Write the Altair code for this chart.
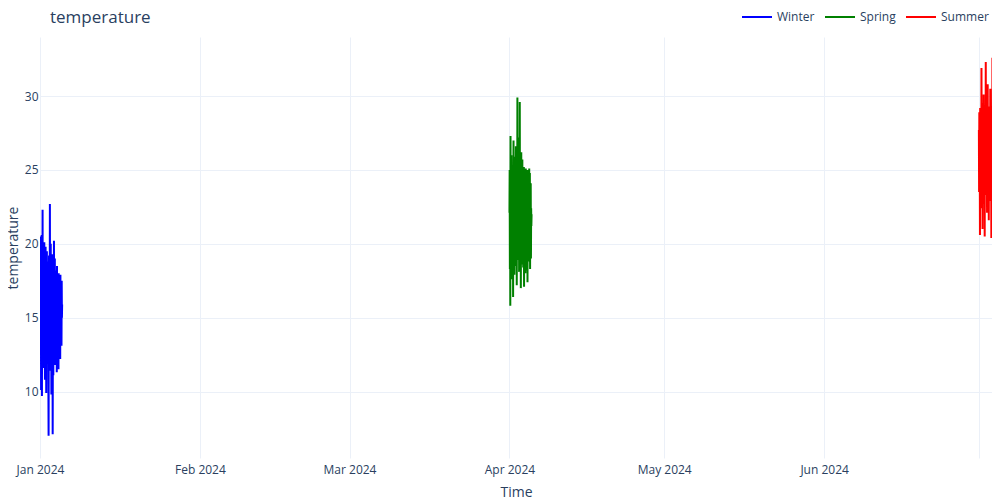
import altair as alt
import pandas as pd

seasons = ["Winter", "Spring", "Summer"]
starts = ["2024-01-01", "2024-04-01", "2024-07-01"]
colors = ["blue", "green", "red"]

winter = [20.5, 14.2, 18.9, 12.5, 19.6, 10.1, 16.8, 13.4, 20.6, 9.7, 17.5, 12.9, 22.3, 14.8, 18.1, 11.6,
          19.4, 13.0, 15.7, 12.2, 20.1, 14.6, 16.9, 10.8, 18.3, 13.7, 19.8, 12.4, 17.2, 9.9, 15.5, 13.1,
          19.5, 11.9, 16.4, 14.3, 18.8, 12.7, 17.6, 10.5, 7.0, 15.9, 19.2, 13.6, 16.7, 11.4, 22.7, 14.1,
          18.5, 12.0, 20.0, 13.3, 17.1, 9.8, 15.2, 12.6, 19.3, 14.7, 16.0, 7.1, 13.9, 18.7, 11.1, 17.8,
          14.4, 20.2, 12.3, 16.6, 13.5, 19.0, 11.8, 15.8, 13.2, 18.2, 12.1, 17.4, 14.0, 16.2, 11.3, 18.5,
          13.8, 15.4, 12.5, 17.7, 14.9, 16.1, 11.5, 18.0, 13.4, 15.6, 12.8, 17.3, 14.2, 16.5, 12.2, 17.9,
          13.6, 15.3, 14.5, 16.8, 13.1, 17.5, 15.0, 15.9]

spring = [22.1, 25.0, 18.3, 24.2, 15.8, 27.3, 20.4, 23.6, 19.1, 26.0, 21.5, 17.6, 24.8, 20.0, 22.9, 18.7,
          25.3, 16.4, 23.1, 27.0, 19.8, 21.9, 24.5, 17.9, 22.6, 20.7, 25.9, 18.5, 23.4, 21.2, 26.6, 19.4,
          22.0, 24.1, 17.2, 23.8, 20.9, 29.9, 18.9, 24.6, 21.6, 27.2, 19.6, 22.8, 25.5, 18.1, 23.3, 20.3,
          29.6, 21.8, 24.9, 19.0, 23.0, 17.0, 22.4, 26.2, 20.6, 24.3, 18.6, 22.7, 25.7, 19.9, 21.4, 24.0,
          18.4, 23.5, 20.2, 25.2, 17.1, 22.2, 24.7, 19.3, 21.7, 23.9, 18.0, 22.5, 25.1, 19.5, 21.1, 24.4,
          18.2, 23.2, 20.8, 25.0, 17.4, 22.3, 24.2, 19.7, 21.0, 23.7, 18.8, 22.6, 25.1, 19.2, 21.3, 24.8,
          18.3, 23.0, 20.5, 24.1, 19.0, 22.4, 21.2, 22.0]

summer = [27.7, 23.5, 28.9, 24.6, 26.3, 20.6, 29.2, 25.1, 27.4, 22.4, 28.1, 24.0, 31.9, 25.7, 23.1, 29.5,
          26.6, 21.0, 28.3, 24.9, 27.0, 22.7, 30.1, 25.4, 26.8, 23.8, 29.0, 20.5, 27.9, 24.4, 28.6, 25.9,
          32.3, 23.3, 26.2, 29.7, 24.1, 27.5, 22.1, 28.8, 25.6, 30.8, 23.6, 27.2, 24.8, 29.3, 21.6, 26.9,
          25.2, 28.4, 22.9, 27.6, 24.3, 30.5, 25.8, 23.0, 28.0, 26.4, 20.4, 29.1, 24.7, 27.3, 23.9, 32.6,
          25.5, 28.7, 22.5, 27.1, 24.2, 29.8, 26.1, 23.4, 28.2, 25.0, 21.4, 27.8, 24.5, 29.4, 26.0, 22.8,
          28.5, 25.3, 27.0, 23.7, 30.2, 24.9, 26.7, 22.6, 28.1, 25.6, 27.4, 23.2, 29.0, 24.4, 26.5, 25.1,
          27.9, 22.3, 28.6, 24.0, 26.3, 25.7, 27.2, 24.8]

y_ticks = [10, 15, 20, 25, 30]

frames = []
for name, start, vals in zip(seasons, starts, [winter, spring, summer]):
    t = pd.date_range(start, periods=len(vals), freq="h")
    frames.append(pd.DataFrame({"Time": t.strftime("%Y-%m-%dT%H:%M:%S"),
                                "temperature": vals, "season": name}))
df = pd.concat(frames, ignore_index=True)

FONT = "Open Sans"
TXT = "#2a3f5f"

month_ticks = [alt.DateTime(year=2024, month=m, date=1) for m in range(1, 8)]

chart = alt.Chart(df).mark_line(strokeWidth=2, clip=True).encode(
    x=alt.X("Time:T",
            scale=alt.Scale(domain=[alt.DateTime(year=2024, month=1, date=1),
                                    alt.DateTime(year=2024, month=7, date=3, hours=13)]),
            axis=alt.Axis(values=month_ticks,
                          labelExpr="month(datum.value) == 6 ? '' : timeFormat(datum.value, '%b %Y')",
                          labelPadding=6, titlePadding=10, labelFlush=False, labelOverlap=False),
            title="Time"),
    y=alt.Y("temperature:Q",
            scale=alt.Scale(domain=[5.5, 34], nice=False, zero=False),
            axis=alt.Axis(values=y_ticks, labelPadding=2, titlePadding=4),
            title="temperature"),
    color=alt.Color("season:N",
                    scale=alt.Scale(domain=seasons, range=colors),
                    legend=alt.Legend(orient="none", legendX=701, legendY=-36,
                                      direction="horizontal", title=None,
                                      symbolType="stroke", symbolSize=900,
                                      symbolStrokeWidth=2, labelFontSize=12,
                                      labelColor=TXT, labelFont=FONT,
                                      labelOffset=4, columnPadding=6, padding=0)),
    order="Time:T",
).properties(
    width=952, height=421,
    title=alt.Title("temperature", anchor="start", frame="group", fontSize=17, color=TXT,
                    font=FONT, fontWeight="normal", dx=10, offset=-26),
    autosize=alt.AutoSizeParams(type="none"),
    padding={"left": 32, "top": 29, "right": 0, "bottom": 42},
).configure_view(stroke=None).configure_axis(
    gridColor="#EBF0F8", domain=False, ticks=False,
    labelColor=TXT, titleColor=TXT, labelFont=FONT, titleFont=FONT,
    labelFontSize=12, titleFontSize=14, titleFontWeight="normal",
)

chart.save("out.html", embed_options={"renderer": "svg", "actions": False})
